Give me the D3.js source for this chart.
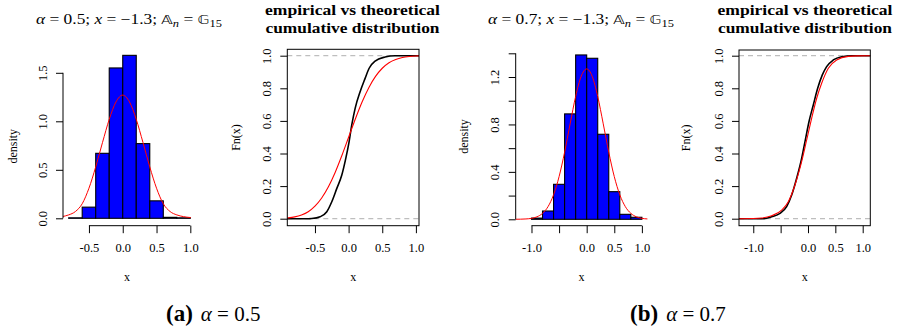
<!DOCTYPE html>
<html>
<head>
<meta charset="utf-8">
<script src="https://cdn.jsdelivr.net/npm/d3@7"></script>
<style>
  body { margin: 0; background: #fff; }
  svg { display: block; }
</style>
</head>
<body>
<div id="chart"></div>
<script>
// ---- data ----

// (a) alpha = 0.5 : histogram (bin width 0.2) and fitted density
const breaksA = [-0.8, -0.6, -0.4, -0.2, 0.0, 0.2, 0.4, 0.6, 0.8, 1.0];
const densityA = [0.005, 0.115, 0.67, 1.55, 1.68, 0.77, 0.18, 0.01, 0.005];
const fitXA = [-0.9, -0.8, -0.7, -0.6, -0.5, -0.4, -0.3, -0.2, -0.1, 0.0, 0.1, 0.2, 0.3, 0.4, 0.5, 0.6, 0.7, 0.8, 0.9, 1.0, 1.1];
const fitYA = [0.017, 0.035, 0.07, 0.15, 0.31, 0.53, 0.78, 1.02, 1.2, 1.27, 1.2, 1.02, 0.78, 0.53, 0.31, 0.15, 0.07, 0.035, 0.017, 0.008, 0.004];

// (a) empirical vs theoretical cdf
const ecdfXA = [-0.95, -0.6, -0.547, -0.423, -0.324, -0.25, -0.175, -0.101, -0.042, 0.007, 0.047, 0.097, 0.171, 0.245, 0.305, 0.394, 0.542, 0.69, 1.1];
const ecdfYA = [0, 0, 0.001, 0.012, 0.043, 0.104, 0.186, 0.268, 0.37, 0.472, 0.575, 0.677, 0.779, 0.861, 0.923, 0.967, 0.992, 1.0, 1.0];
const cdfXA = [-1.0, -0.9, -0.8, -0.7, -0.6, -0.5, -0.4, -0.3, -0.2, -0.1, 0.0, 0.1, 0.2, 0.3, 0.4, 0.5, 0.6, 0.7, 0.8, 0.9, 1.0, 1.1];
const cdfYA = [0.002, 0.005, 0.011, 0.023, 0.043, 0.077, 0.127, 0.196, 0.284, 0.388, 0.5, 0.612, 0.716, 0.804, 0.873, 0.923, 0.957, 0.977, 0.989, 0.995, 0.998, 0.999];

// (b) alpha = 0.7 : histogram and fitted density
const breaksB = [-1.0, -0.8, -0.6, -0.4, -0.2, 0.0, 0.2, 0.4, 0.6, 0.8, 1.0];
const densityB = [0.01, 0.07, 0.295, 0.889, 1.386, 1.358, 0.717, 0.233, 0.042, 0.017];
const fitXB = [-1.3, -1.2, -1.1, -1.0, -0.9, -0.8, -0.7, -0.6, -0.5, -0.4, -0.3, -0.2, -0.1, 0.0, 0.1, 0.2, 0.3, 0.4, 0.5, 0.6, 0.7, 0.8, 0.9, 1.0, 1.1, 1.2];
const fitYB = [0.0003, 0.001, 0.003, 0.008, 0.021, 0.05, 0.107, 0.207, 0.36, 0.566, 0.805, 1.036, 1.206, 1.268, 1.206, 1.036, 0.805, 0.566, 0.36, 0.207, 0.107, 0.05, 0.021, 0.008, 0.003, 0.001];

// (b) empirical vs theoretical cdf
const ecdfXB = [-1.3, -0.8, -0.664, -0.512, -0.39, -0.298, -0.207, -0.116, -0.043, 0.018, 0.097, 0.177, 0.262, 0.341, 0.463, 0.616, 0.8, 1.2];
const ecdfYB = [0, 0, 0.012, 0.033, 0.074, 0.145, 0.248, 0.37, 0.493, 0.595, 0.698, 0.8, 0.882, 0.933, 0.974, 0.994, 1.0, 1.0];
const cdfXB = [-1.3, -1.0, -0.846, -0.664, -0.481, -0.36, -0.238, -0.116, -0.024, 0.067, 0.159, 0.25, 0.372, 0.524, 0.737, 0.9, 1.2];
const cdfYB = [0, 0.001, 0.004, 0.018, 0.053, 0.104, 0.207, 0.35, 0.483, 0.616, 0.739, 0.831, 0.923, 0.974, 0.996, 0.999, 1.0];

// ticks
const histTicksYA = [0, 0.5, 1.0, 1.5];
const histTicksYB = [0, 0.2, 0.4, 0.6, 0.8, 1.0, 1.2, 1.4];
const histLabelsYB = [0, 0.4, 0.8, 1.2];
const xTicksA = [-0.5, 0, 0.5, 1.0];
const xTicksB = [-1.0, -0.5, 0, 0.5, 1.0];
const xLabelsB = [-1.0, 0, 0.5, 1.0];
const cdfTicksY = [0, 0.2, 0.4, 0.6, 0.8, 1.0];

const W = 898, H = 331;
const SERIF = '"Liberation Serif", "DejaVu Serif", serif';
const BLUE = '#0000ff', RED = '#ff0000', GREY = '#bebebe';

const svg = d3.select('#chart').append('svg')
  .attr('width', W).attr('height', H)
  .attr('viewBox', '0 0 ' + W + ' ' + H)
  .style('font-family', SERIF);

let clipId = 0;
function clipRect(x0, y0, w, h) {
  const id = 'clip' + (clipId++);
  svg.append('clipPath').attr('id', id)
    .append('rect').attr('x', x0).attr('y', y0).attr('width', w).attr('height', h);
  return 'url(#' + id + ')';
}

function fmt(v) { return d3.format('.1f')(v).replace('−', '-'); }

// R style axis: line only between first and last tick, labels parallel to axis
function xAxis(g, x, y0, ticks, labels, drawLine) {
  const ax = d3.axisBottom(x).tickValues(ticks).tickSizeOuter(0).tickSize(7.5).tickPadding(0)
    .tickFormat(function(d) { return labels.indexOf(d) >= 0 ? fmt(d) : ''; });
  const a = g.append('g').attr('transform', 'translate(0,' + y0 + ')').call(ax);
  a.attr('font-family', SERIF).attr('font-size', 12.5);
  if (drawLine) {
    a.select('.domain').attr('d', 'M' + x(ticks[0]) + ',0H' + x(ticks[ticks.length - 1]));
  } else {
    a.select('.domain').remove();
  }
  a.selectAll('.tick line').attr('stroke', '#000').attr('stroke-width', 1);
  a.selectAll('.tick text').attr('fill', '#000').attr('y', 26).attr('dy', 0);
  a.select('.domain').attr('stroke', '#000').attr('stroke-width', 1);
}

function yAxis(g, y, x0, ticks, labels, drawLine) {
  const ax = d3.axisLeft(y).tickValues(ticks).tickSizeOuter(0).tickSize(7).tickPadding(0)
    .tickFormat(function(d) { return labels.indexOf(d) >= 0 ? fmt(d) : ''; });
  const a = g.append('g').attr('transform', 'translate(' + x0 + ',0)').call(ax);
  a.attr('font-family', SERIF).attr('font-size', 12.5);
  if (drawLine) {
    a.select('.domain').attr('d', 'M0,' + y(ticks[0]) + 'V' + y(ticks[ticks.length - 1]));
  } else {
    a.select('.domain').remove();
  }
  a.selectAll('.tick line').attr('stroke', '#000').attr('stroke-width', 1);
  a.selectAll('.tick text')
    .attr('fill', '#000')
    .attr('transform', 'rotate(-90)')
    .attr('x', 0).attr('y', -16.5).attr('dy', 0)
    .attr('text-anchor', 'middle');
  a.select('.domain').attr('stroke', '#000').attr('stroke-width', 1);
}

function mathTitle(g, cx, y, alpha) {
  const t = g.append('text').attr('x', cx).attr('y', y)
    .attr('text-anchor', 'middle').attr('font-size', 14).attr('fill', '#000')
    .attr('textLength', 186).attr('lengthAdjust', 'spacingAndGlyphs');
  t.append('tspan').attr('font-style', 'italic').text('α');
  t.append('tspan').text(' = ' + alpha + '; ');
  t.append('tspan').attr('font-style', 'italic').text('x');
  t.append('tspan').text(' = −1.3; ');
  t.append('tspan').attr('font-family', '"DejaVu Sans", serif').attr('font-size', 12.5).text('𝔸');
  t.append('tspan').attr('font-style', 'italic').attr('font-size', 10).attr('dy', 3).text('n');
  t.append('tspan').attr('dy', -3).text(' = ');
  t.append('tspan').attr('font-family', '"DejaVu Sans", serif').attr('font-size', 12.5).text('𝔾');
  t.append('tspan').attr('font-size', 10).attr('dy', 3).text('15');
}

function histPanel(p) {
  const g = svg.append('g');
  const x = d3.scaleLinear().domain(p.xDomain).range([p.left, p.right]);
  const y = d3.scaleLinear().domain([0, p.yTop]).range([p.y0, p.yTopPx]);

  const bins = p.dens.map(function(d, i) { return { a: p.breaks[i], b: p.breaks[i + 1], v: d }; });
  g.append('g').selectAll('rect').data(bins).join('rect')
    .attr('x', function(d) { return x(d.a); })
    .attr('y', function(d) { return y(d.v); })
    .attr('width', function(d) { return x(d.b) - x(d.a); })
    .attr('height', function(d) { return y(0) - y(d.v); })
    .attr('fill', BLUE).attr('stroke', '#000').attr('stroke-width', 1.1);

  const pts = p.fitX.map(function(v, i) { return [v, p.fitY[i]]; });
  g.append('path').datum(pts)
    .attr('clip-path', clipRect(p.left, 20, p.right - p.left, p.bottom - 20))
    .attr('d', d3.line().x(function(d) { return x(d[0]); }).y(function(d) { return y(d[1]); }).curve(d3.curveMonotoneX))
    .attr('fill', 'none').attr('stroke', RED).attr('stroke-width', 1);

  yAxis(g, y, p.left, p.yTicks, p.yLabels, true);
  xAxis(g, x, p.bottom, p.xTicks, p.xLabels, true);

  mathTitle(g, p.titleX, 23.5, p.alpha);
  g.append('text').attr('x', (p.left + p.right) / 2).attr('y', 281).attr('text-anchor', 'middle')
    .attr('font-size', 12).text('x');
  g.append('text').attr('transform', 'translate(' + p.ylabX + ',' + ((p.yTopPx + p.bottom) / 2 - 3) + ') rotate(-90)')
    .attr('text-anchor', 'middle').attr('font-size', 12).text('density');
}

function cdfPanel(p) {
  const g = svg.append('g');
  const x = d3.scaleLinear().domain(p.xDomain).range([p.left, p.right]);
  const y = d3.scaleLinear().domain([0, 1]).range([218.7, 55.7]);

  // reference lines at 0 and 1
  g.append('g').selectAll('line').data([0, 1]).join('line')
    .attr('x1', p.left).attr('x2', p.right)
    .attr('y1', function(d) { return y(d); }).attr('y2', function(d) { return y(d); })
    .attr('stroke', GREY).attr('stroke-width', 1.3).attr('stroke-dasharray', '5,4');

  const clip = clipRect(p.left, p.top, p.right - p.left, p.bottom - p.top);
  const line = d3.line().x(function(d) { return x(d[0]); }).y(function(d) { return y(d[1]); }).curve(d3.curveMonotoneX);

  g.append('path').datum(p.ecdfX.map(function(v, i) { return [v, p.ecdfY[i]]; }))
    .attr('clip-path', clip).attr('d', line)
    .attr('fill', 'none').attr('stroke', '#000').attr('stroke-width', 1.6);
  g.append('path').datum(p.cdfX.map(function(v, i) { return [v, p.cdfY[i]]; }))
    .attr('clip-path', clip).attr('d', line)
    .attr('fill', 'none').attr('stroke', RED).attr('stroke-width', 1.1);

  g.append('rect').attr('x', p.left).attr('y', p.top)
    .attr('width', p.right - p.left).attr('height', p.bottom - p.top)
    .attr('fill', 'none').attr('stroke', '#000').attr('stroke-width', 1);

  yAxis(g, y, p.left, cdfTicksY, cdfTicksY, false);
  xAxis(g, x, p.bottom, p.xTicks, p.xLabels, false);

  const cx = p.titleX;
  g.append('text').attr('x', cx).attr('y', 15).attr('text-anchor', 'middle')
    .attr('font-size', 14).attr('font-weight', 'bold')
    .attr('textLength', 175).attr('lengthAdjust', 'spacingAndGlyphs')
    .text('empirical vs theoretical');
  g.append('text').attr('x', cx).attr('y', 32.5).attr('text-anchor', 'middle')
    .attr('font-size', 14).attr('font-weight', 'bold')
    .attr('textLength', 174).attr('lengthAdjust', 'spacingAndGlyphs')
    .text('cumulative distribution');
  g.append('text').attr('x', (p.left + p.right) / 2).attr('y', 281).attr('text-anchor', 'middle')
    .attr('font-size', 12).text('x');
  g.append('text').attr('transform', 'translate(' + p.ylabX + ',' + ((p.top + p.bottom) / 2) + ') rotate(-90)')
    .attr('text-anchor', 'middle').attr('font-size', 12).text('Fn(x)');
}

histPanel({
  alpha: '0.5', breaks: breaksA, dens: densityA, fitX: fitXA, fitY: fitYA,
  xDomain: [-0.884, 1.01], left: 63, right: 191, bottom: 225.7,
  yTop: 1.5, y0: 218.3, yTopPx: 72.8,
  yTicks: histTicksYA, yLabels: histTicksYA, xTicks: xTicksA, xLabels: xTicksA,
  ylabX: 17, titleX: 129
});
cdfPanel({
  ecdfX: ecdfXA, ecdfY: ecdfYA, cdfX: cdfXA, cdfY: cdfYA,
  xDomain: [-0.911, 1.046], left: 287.3, right: 419, top: 49.3, bottom: 225.7,
  xTicks: xTicksA, xLabels: xTicksA, titleX: 352.5, ylabX: 240
});
histPanel({
  alpha: '0.7', breaks: breaksB, dens: densityB, fitX: fitXB, fitY: fitYB,
  xDomain: [-1.286, 1.10], left: 515.7, right: 647.4, bottom: 225.7,
  yTop: 1.4, y0: 219.3, yTopPx: 53.3,
  yTicks: histTicksYB, yLabels: histLabelsYB, xTicks: xTicksB, xLabels: xLabelsB,
  ylabX: 468, titleX: 581
});
cdfPanel({
  ecdfX: ecdfXB, ecdfY: ecdfYB, cdfX: cdfXB, cdfY: cdfYB,
  xDomain: [-1.261, 1.139], left: 739, right: 870.3, top: 50, bottom: 225.7,
  xTicks: xTicksB, xLabels: xLabelsB, titleX: 805, ylabX: 690
});

// sub-figure captions
function caption(x, letter, alpha) {
  const t = svg.append('text').attr('x', x).attr('y', 321).attr('fill', '#000');
  t.append('tspan').attr('font-weight', 'bold').attr('font-size', 23).text('(' + letter + ')');
  t.append('tspan').attr('font-size', 21).attr('dx', 8).attr('font-style', 'italic').text('α');
  t.append('tspan').attr('font-size', 21).text(' = ' + alpha);
}
caption(166, 'a', '0.5');
caption(630, 'b', '0.7');
</script>
</body>
</html>
